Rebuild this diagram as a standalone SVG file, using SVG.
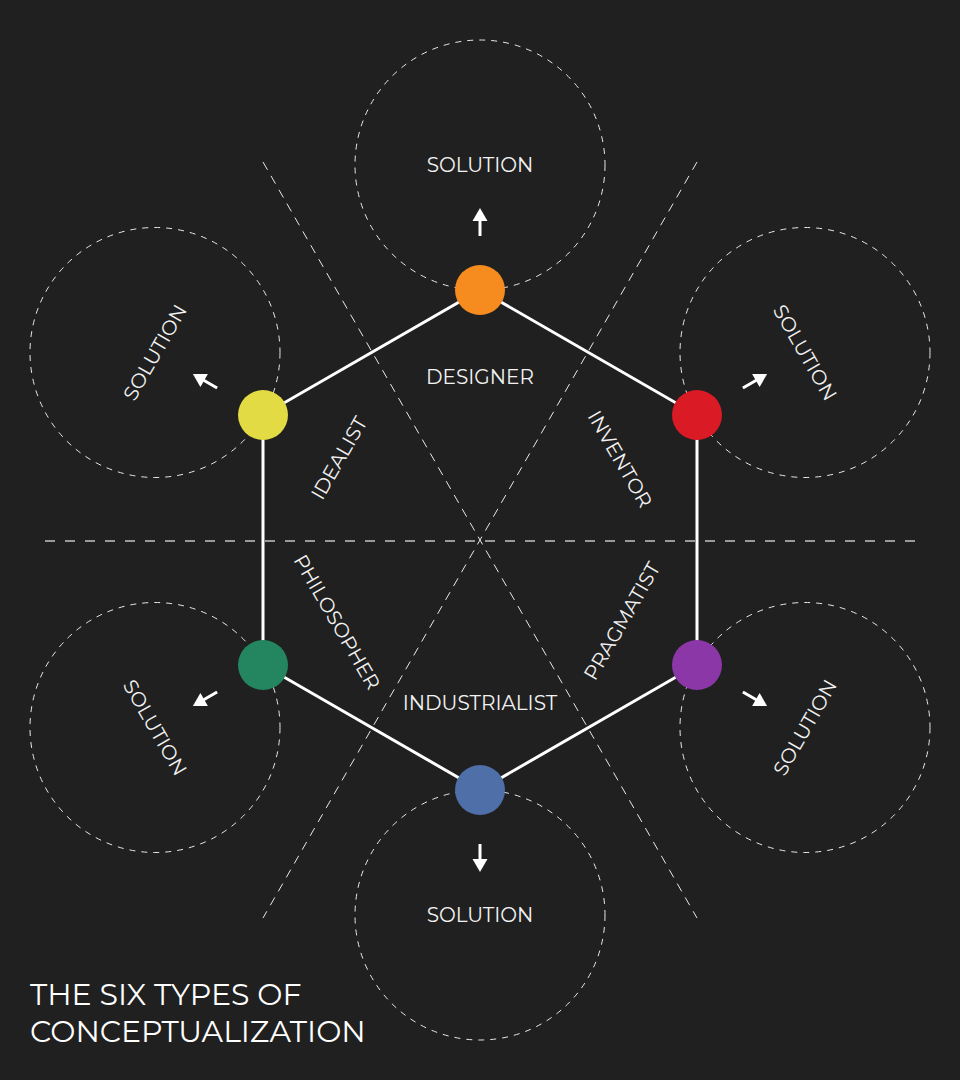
<svg xmlns="http://www.w3.org/2000/svg" width="960" height="1080" viewBox="0 0 960 1080">
<defs>
<style>
.bg{fill:#202020}
.dc{fill:none;stroke:#e8e8e8;stroke-width:1;stroke-dasharray:6 6}
.dl{stroke:#e8e8e8;stroke-width:1;stroke-dasharray:9 7}
.hl{stroke:#999;stroke-width:2;stroke-dasharray:10 10}
.edge{stroke:#fff;stroke-width:3;fill:none}
.t{font-family:"Montserrat","Open Sans","Liberation Sans",sans-serif;fill:#f2f2f2;font-size:20px;text-anchor:middle;dominant-baseline:central;font-weight:400}
.title{font-family:"Montserrat","Open Sans","Liberation Sans",sans-serif;fill:#fff;font-size:30px;font-weight:400}
</style>
<g id="arr">
<line x1="0" y1="14" x2="0" y2="-2" stroke="#fff" stroke-width="3"/>
<polygon points="0,-14 7.5,-1 -7.5,-1" fill="#fff"/>
</g>
</defs>
<rect class="bg" x="0" y="0" width="960" height="1080"/>
<g id="guides">
<line class="hl" x1="45" y1="541" x2="915" y2="541"/>
<line class="dl" x1="263" y1="162" x2="697" y2="918"/>
<line class="dl" x1="697" y1="162" x2="263" y2="918"/>
<circle class="dc" cx="480" cy="165" r="125"/>
<circle class="dc" cx="805" cy="352.5" r="125"/>
<circle class="dc" cx="805" cy="727.5" r="125"/>
<circle class="dc" cx="480" cy="915" r="125"/>
<circle class="dc" cx="155" cy="727.5" r="125"/>
<circle class="dc" cx="155" cy="352.5" r="125"/>
</g>
<g id="connectors">
<polygon class="edge" points="480,290 697,415 697,665 480,790 263,665 263,415"/>
</g>
<g id="arrows">
<use href="#arr" transform="translate(480,222)"/>
<use href="#arr" transform="translate(755,381) rotate(60)"/>
<use href="#arr" transform="translate(755,699) rotate(120)"/>
<use href="#arr" transform="translate(480,858) rotate(180)"/>
<use href="#arr" transform="translate(205,699) rotate(240)"/>
<use href="#arr" transform="translate(205,381) rotate(300)"/>
</g>
<g id="node-designer">
<circle cx="480" cy="290" r="25" fill="#f68b1f"/>
<text class="t" x="480" y="377">DESIGNER</text>
</g>
<g id="node-inventor">
<circle cx="697" cy="415" r="25" fill="#da1a25"/>
<text class="t" transform="translate(620,459) rotate(60)">INVENTOR</text>
</g>
<g id="node-pragmatist">
<circle cx="697" cy="665" r="25" fill="#8b37a8"/>
<text class="t" transform="translate(622,621) rotate(-60)">PRAGMATIST</text>
</g>
<g id="node-industrialist">
<circle cx="480" cy="790" r="25" fill="#4e6fa8"/>
<text class="t" x="480" y="703">INDUSTRIALIST</text>
</g>
<g id="node-philosopher">
<circle cx="263" cy="665" r="25" fill="#238660"/>
<text class="t" transform="translate(337,622) rotate(60)">PHILOSOPHER</text>
</g>
<g id="node-idealist">
<circle cx="263" cy="415" r="25" fill="#e2db44"/>
<text class="t" transform="translate(339,458) rotate(-60)">IDEALIST</text>
</g>
<g id="solutions">
<text class="t" x="480" y="165">SOLUTION</text>
<text class="t" transform="translate(805,352.5) rotate(60)">SOLUTION</text>
<text class="t" transform="translate(805,727.5) rotate(-60)">SOLUTION</text>
<text class="t" x="480" y="915">SOLUTION</text>
<text class="t" transform="translate(155,727.5) rotate(60)">SOLUTION</text>
<text class="t" transform="translate(155,352.5) rotate(-60)">SOLUTION</text>
</g>
<g id="title">
<text class="title" x="30" y="1005">THE SIX TYPES OF</text>
<text class="title" x="30" y="1042">CONCEPTUALIZATION</text>
</g>
</svg>
